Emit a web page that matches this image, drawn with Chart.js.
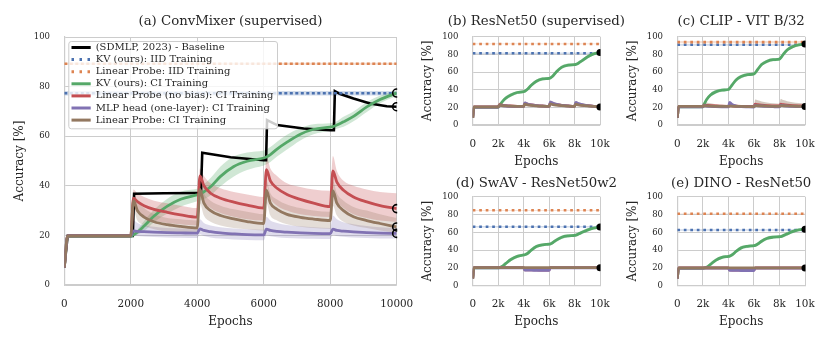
<!DOCTYPE html>
<html><head><meta charset="utf-8">
<script src="https://cdn.jsdelivr.net/npm/chart.js@4.4.1/dist/chart.umd.min.js"></script>
<style>
html,body{margin:0;padding:0;background:#fff;}
#wrap{position:relative;width:831px;height:341px;overflow:hidden;background:#fff;}
canvas{position:absolute;left:0;top:0;width:831px;height:341px;}
</style></head><body>
<div id="wrap">
<canvas id="cA" width="831" height="341"></canvas>
<canvas id="cB" width="831" height="341"></canvas>
<canvas id="cC" width="831" height="341"></canvas>
<canvas id="cD" width="831" height="341"></canvas>
<canvas id="cE" width="831" height="341"></canvas>
</div>
<script>
// ================= DATA =================
const panelTitles = ['(a) ConvMixer (supervised)', '(b) ResNet50 (supervised)', '(c) CLIP - VIT B/32', '(d) SwAV - ResNet50w2', '(e) DINO - ResNet50'];
const yTickLabels = ['0', '20', '40', '60', '80', '100'];
const mainXTickLabels = ['0', '2000', '4000', '6000', '8000', '10000'];
const smallXTickLabels = ['0', '2k', '4k', '6k', '8k', '10k'];
const legendLabels = ['(SDMLP, 2023) - Baseline', 'KV (ours): IID Training', 'Linear Probe: IID Training', 'KV (ours): CI Training', 'Linear Probe (no bias): CI Training', 'MLP head (one-layer): CI Training', 'Linear Probe: CI Training'];

// panel (a) ConvMixer
const mainEpochs = [0, 100, 2000, 2080, 2200, 2400, 2700, 3100, 3500, 4000, 4080, 4200, 4400, 4700, 5100, 5500, 6000, 6080, 6200, 6400, 6700, 7100, 7500, 8000, 8080, 8200, 8400, 8700, 9100, 9500, 10000];
const convKV = [7, 19.6, 19.6, 20.2, 21.3, 23.8, 27.8, 31.8, 34.6, 36.3, 36.6, 37.6, 39.6, 43.8, 47.8, 49.9, 51.2, 51.6, 52.6, 54.8, 57.6, 60.8, 62.8, 63.7, 63.9, 64.5, 65.8, 68.0, 71.8, 74.8, 77.4];
const convKVLo = [6.5, 19.3, 19.3, 19.7, 20.3, 21.8, 25.3, 28.8, 31.6, 33.8, 34.1, 34.6, 36.1, 39.8, 43.8, 46.4, 48.2, 48.6, 49.6, 51.8, 54.6, 58.3, 60.8, 62.2, 62.4, 63.0, 63.8, 66.0, 69.8, 73.3, 76.2];
const convKVHi = [7.5, 19.9, 19.9, 20.7, 22.3, 25.8, 30.3, 34.8, 37.6, 38.8, 39.1, 40.6, 43.1, 47.8, 51.8, 53.4, 54.2, 54.6, 55.6, 57.8, 60.6, 63.3, 64.8, 65.2, 65.4, 66.0, 67.8, 70.0, 73.8, 76.3, 78.6];
const convLPNB = [7, 19.8, 19.8, 35, 33.6, 32, 30.5, 29.3, 28.3, 27.4, 44, 40, 37, 35, 33.4, 32.2, 31, 46.5, 42, 39, 36.5, 34.5, 33, 31.6, 46, 41.5, 38.2, 35.5, 33.5, 32, 30.8];
const convLPNBLo = [6, 19.3, 19.3, 31, 29, 27.5, 26, 25, 24.5, 24, 40, 34, 31, 29, 27.5, 26.5, 26, 40, 35, 32, 30, 28.5, 27.8, 27.4, 39, 34, 31, 28.5, 27, 26, 25.4];
const convLPNBHi = [8, 20.3, 20.3, 38.5, 37, 35.5, 34, 33, 32, 31, 47, 44, 41, 39, 37.5, 36.5, 35.5, 52, 47, 44, 41, 39.5, 38.5, 38, 52, 46, 42, 40, 38.5, 37.5, 37];
const convMLP = [7, 19.8, 19.8, 21.8, 21.6, 21.5, 21.3, 21.1, 21, 20.9, 22.6, 22, 21.5, 21, 20.6, 20.3, 20.2, 22.5, 22, 21.6, 21.3, 21, 20.8, 20.7, 22.5, 22, 21.7, 21.4, 21.1, 20.9, 20.8];
const convMLPLo = [6, 19.3, 19.3, 20, 19.8, 19.6, 19.4, 19.2, 19.1, 19, 20.5, 19.8, 19.2, 18.7, 18.3, 18.1, 18, 20.2, 19.7, 19.3, 19, 18.8, 18.6, 18.5, 20.3, 19.8, 19.5, 19.2, 19, 18.8, 18.7];
const convMLPHi = [8, 20.3, 20.3, 26, 25, 24, 23.5, 23, 22.8, 22.6, 26.5, 25, 24, 23.3, 22.8, 22.5, 22.3, 27.5, 26, 25, 24.2, 23.7, 23.3, 23, 28, 26.5, 25.3, 24.5, 23.8, 23.3, 23];
const convLP = [7, 19.8, 19.8, 34, 30, 27.4, 25.5, 24.3, 23.6, 23, 38.5, 33, 30, 28, 26.7, 25.6, 24.8, 38.2, 33, 30.5, 28.5, 27.3, 26.6, 26, 38, 33, 30, 27.5, 26, 24.8, 23.4];
const convLPLo = [6, 19.3, 19.3, 30, 26, 24, 22.5, 21.5, 21, 20.8, 33, 28, 25.5, 24, 23, 22.5, 22, 33, 28, 26, 24.5, 23.5, 23, 22.7, 32, 28, 25.5, 24, 23, 22, 21];
const convLPHi = [8, 20.3, 20.3, 37, 34, 31, 28.5, 27, 26.5, 26, 42, 37, 34, 32, 30.5, 29.5, 28.5, 42, 37, 34.5, 32.5, 31, 30, 29.5, 42, 37, 34, 31.5, 30, 28.5, 27];
const baselineEpochs = [0, 100, 2060, 2100, 3000, 4000, 4110, 4150, 5000, 6000, 6070, 6100, 6400, 7200, 8000, 8110, 8140, 8300, 8700, 9200, 9700, 10000];
const baselineAcc = [7, 19.8, 19.8, 36.8, 37, 37.1, 37.1, 53.3, 51.5, 50.3, 50.3, 66.5, 64.5, 63.1, 62.4, 62.4, 78.2, 77, 75.2, 73.2, 72.1, 71.9];
const iidEpochs = [0, 10000];
// IID results per panel (a..e)
const iidKV = [77.3, 81.3, 90.8, 66.3, 62.6];
const iidKVSpread = [0.9, 0.8, 1.0, 0.8, 0.8];
const iidLP = [89.2, 91.8, 93.8, 84.7, 80.9];
const iidLPSpread = [0.4, 0.4, 1.2, 0.4, 0.3];

// small panels (b..e)
const smallEpochs = [0, 100, 2000, 2100, 2300, 2600, 3000, 3500, 4000, 4100, 4300, 4600, 5000, 5500, 6000, 6100, 6300, 6600, 7000, 7500, 8000, 8100, 8300, 8600, 9000, 9500, 10000];
const smallKVSpread = [0.5, 0.5, 0.5, 1, 1.5, 2, 2, 1.8, 1.5, 1.5, 1.8, 2, 2, 1.8, 1.5, 1.5, 1.8, 2, 2, 1.8, 1.5, 1.5, 1.8, 2, 2, 1.5, 1.2];

const resnetKV = [8, 20, 20, 22, 26, 30.5, 34, 36.8, 37.8, 38.3, 40.5, 45, 49.5, 52.2, 52.8, 53.2, 55.5, 60.5, 65.5, 67.8, 68.3, 68.6, 70, 73, 77, 80.5, 82];
const resnetLP = [8, 20.5, 20.5, 22.5, 22, 21.6, 21.3, 21.1, 21, 23.5, 22.8, 22.2, 21.7, 21.3, 21.1, 24, 23.2, 22.5, 21.9, 21.4, 21.1, 23.5, 22.8, 22.2, 21.6, 21, 20.5];
const resnetLPNB = [8, 20.5, 20.5, 23, 22.4, 21.9, 21.5, 21.2, 21.1, 24.5, 23.5, 22.7, 22, 21.5, 21.2, 25, 24, 23, 22.2, 21.6, 21.2, 24.5, 23.5, 22.6, 21.9, 21.2, 20.7];
const resnetMLP = [8, 20.3, 20.3, 22.5, 22, 21.5, 21.2, 21, 20.9, 25, 23.8, 22.8, 22, 21.4, 21, 26, 24.6, 23.3, 22.3, 21.6, 21.1, 25.5, 24.2, 23, 22, 21.2, 20.6];
const resnetCILo = [7, 19.8, 19.8, 21, 20.8, 20.6, 20.5, 20.4, 20.3, 21.5, 21.2, 20.9, 20.7, 20.5, 20.4, 22, 21.5, 21, 20.8, 20.6, 20.4, 21.5, 21.2, 20.9, 20.6, 20.3, 20];
const resnetCIHi = [9, 21, 21, 25, 24, 23, 22.4, 22, 21.8, 27, 25.5, 24.3, 23.3, 22.5, 22, 28, 26.5, 25, 23.8, 22.8, 22.2, 27.5, 26, 24.6, 23.4, 22.3, 21.5];

const clipKV = [8, 20.5, 20.5, 23.5, 29, 34, 37.5, 39.5, 40.2, 41.5, 45.5, 51, 54.8, 57, 57.8, 59, 63, 68.5, 72, 74, 74.6, 76, 80, 85, 88.5, 90.8, 91.6];
const clipLP = [8, 21, 21, 21.8, 21.6, 21.4, 21.2, 21, 21, 21.5, 21.3, 21.1, 21, 20.9, 20.8, 22, 21.8, 21.6, 21.4, 21.2, 21.1, 22, 21.8, 21.6, 21.4, 21.2, 21];
const clipLPNB = [8, 21, 21, 22.5, 22.2, 21.9, 21.6, 21.3, 21.2, 22, 21.7, 21.4, 21.2, 21.1, 21, 23.5, 23, 22.5, 22, 21.7, 21.5, 23.5, 23, 22.5, 22, 21.7, 21.5];
const clipMLP = [8, 20.5, 20.5, 22, 21.5, 21, 20.8, 20.6, 20.5, 25.5, 23, 21.5, 20.8, 20.5, 20.3, 22.5, 22, 21.5, 21, 20.7, 20.5, 22.5, 22, 21.5, 21, 20.8, 20.6];
const clipCILo = [7, 20.3, 20.3, 20.5, 20.5, 20.4, 20.3, 20.2, 20.1, 20.3, 20.2, 20.1, 20, 19.9, 19.8, 20.5, 20.4, 20.3, 20.2, 20.1, 20, 20.5, 20.4, 20.3, 20.2, 20.1, 20];
const clipCIHi = [9, 21.5, 21.5, 26.5, 25.5, 24.5, 23.5, 22.8, 22.3, 26, 24.5, 23.2, 22.5, 22.2, 22, 29, 28, 26.7, 25.5, 24.5, 24, 29.5, 28.3, 27, 25.8, 24.8, 24.3];

const swavKV = [8, 20, 20, 20.3, 21.5, 25, 29.5, 33, 34.5, 34.8, 36.2, 40, 44, 46, 46.6, 46.9, 48.5, 51.5, 54.5, 56, 56.5, 56.8, 58, 60, 62.5, 64.8, 66];
const swavLP = [8, 20.3, 20.3, 20.3, 20.3, 20.3, 20.3, 20.3, 20.3, 20.3, 20.3, 20.3, 20.3, 20.3, 20.3, 20.3, 20.3, 20.3, 20.3, 20.3, 20.3, 20.3, 20.3, 20.3, 20.3, 20.3, 20.3];
const swavLPNB = [8, 20.3, 20.3, 20.3, 20.3, 20.3, 20.3, 20.3, 20.3, 17.9, 17.8, 17.7, 17.7, 17.6, 17.6, 20.3, 20.3, 20.3, 20.3, 20.3, 20.3, 20.3, 20.3, 20.3, 20.3, 20.3, 20.3];
const swavMLP = [8, 20.1, 20.1, 20.1, 20.1, 20.1, 20.1, 20.1, 20.1, 17.5, 17.4, 17.4, 17.3, 17.3, 17.3, 20.1, 20.1, 20.1, 20.1, 20.1, 20.1, 20.1, 20.1, 20.1, 20.1, 20.1, 20.1];

const dinoKV = [8, 19.5, 19.5, 19.8, 20.8, 24, 28.5, 31.8, 33, 33.3, 34.8, 38.5, 42.5, 44.3, 45, 45.3, 46.8, 50, 53, 54.5, 55, 55.2, 56.3, 58.2, 60.7, 62.6, 63.4];
const dinoLP = [8, 20, 20, 20, 20, 20, 20, 20, 20, 20, 20, 20, 20, 20, 20, 20, 20, 20, 20, 20, 20, 20, 20, 20, 20, 20, 20];
const dinoLPNB = [8, 20, 20, 20, 20, 20, 20, 20, 20, 17.7, 17.6, 17.5, 17.5, 17.4, 17.4, 20, 20, 20, 20, 20, 20, 20, 20, 20, 20, 20, 20];
const dinoMLP = [8, 19.8, 19.8, 19.8, 19.8, 19.8, 19.8, 19.8, 19.8, 17.3, 17.2, 17.2, 17.1, 17.1, 17.1, 19.8, 19.8, 19.8, 19.8, 19.8, 19.8, 19.8, 19.8, 19.8, 19.8, 19.8, 19.8];

// ================= STYLE / LAYOUT =================
const FONT = '"DejaVu Serif", serif';
const TXT = '#262626';
const GRID = '#cccccc';
const COL = {black: '#000000', blue: '#4C72B0', orange: '#DD8452', green: '#55A868', red: '#C44E52', purple: '#8172B3', brown: '#937860'};
const legendColors = [COL.black, COL.blue, COL.orange, COL.green, COL.red, COL.purple, COL.brown];
const legendDotted = [false, true, true, false, false, false, false];
const W = 831, H = 341, YW = 60, XH = 56;
const GEOM = [
  {id: 'cA', l: 64.3, r: 396.7, t: 37, b: 285, ty: 21.5},
  {id: 'cB', l: 472.7, r: 600, t: 36.7, b: 125, ty: 21.3},
  {id: 'cC', l: 677.3, r: 805, t: 36.7, b: 125, ty: 21.3},
  {id: 'cD', l: 472.7, r: 600, t: 196.7, b: 285.7, ty: 183.3},
  {id: 'cE', l: 677.3, r: 805, t: 196.7, b: 285.7, ty: 183.3}
];
const TITLE_SIZE = 13.3, LABEL_SIZE = 12, XTICK_SIZE = 10.4, YTICK_SIZE = 8.5, LEGEND_SIZE = 10;

function rgba(hex, a) { const n = parseInt(hex.slice(1), 16); return `rgba(${n >> 16},${(n >> 8) & 255},${n & 255},${a})`; }
const pts = (xs, ys) => xs.map((x, i) => ({x, y: ys[i]}));
const LINE_CLIP = {left: 0, right: 0, top: 2, bottom: 2};

function lineDS(label, xs, ys, color, width, z, extra) {
  return Object.assign({label, data: pts(xs, ys), borderColor: color, backgroundColor: color, borderWidth: width,
    pointRadius: 0, pointHoverRadius: 0, fill: false, cubicInterpolationMode: 'monotone', order: 1000 - z, clip: LINE_CLIP, borderCapStyle: 'butt'}, extra || {});
}
function bandDS(xs, lo, hi, color, alpha, z) {
  return [
    {label: '_hi', data: pts(xs, hi), borderWidth: 0, borderColor: 'rgba(0,0,0,0)', pointRadius: 0, fill: '+1', backgroundColor: rgba(color, alpha), cubicInterpolationMode: 'monotone', order: 1000 - z, clip: LINE_CLIP},
    {label: '_lo', data: pts(xs, lo), borderWidth: 0, borderColor: 'rgba(0,0,0,0)', pointRadius: 0, fill: false, backgroundColor: 'rgba(0,0,0,0)', cubicInterpolationMode: 'monotone', order: 1000 - z, clip: LINE_CLIP}
  ];
}
function iidDatasets(k, dash, width) {
  const kvVals = iidEpochs.map(() => iidKV[k]);
  const lpVals = iidEpochs.map(() => iidLP[k]);
  return [
    ...bandDS(iidEpochs, kvVals.map(v => v - iidKVSpread[k]), kvVals.map(v => v + iidKVSpread[k]), COL.blue, 0.25, 1),
    ...bandDS(iidEpochs, lpVals.map(v => v - iidLPSpread[k]), lpVals.map(v => v + iidLPSpread[k]), COL.orange, 0.25, 2),
    lineDS('KV IID', iidEpochs, kvVals, COL.blue, width, 11, {borderDash: dash, cubicInterpolationMode: 'default'}),
    lineDS('LP IID', iidEpochs, lpVals, COL.orange, width, 12, {borderDash: dash, cubicInterpolationMode: 'default'})
  ];
}
function markerDS(points, radius, filled, z) {
  return {label: '_end', data: points, showLine: false, pointRadius: radius, pointHoverRadius: radius, pointStyle: 'circle',
    pointBorderColor: '#000', pointBackgroundColor: filled ? '#000' : 'rgba(0,0,0,0)', pointBorderWidth: filled ? 0 : 1.6,
    order: 1000 - z, clip: {left: 0, right: 0.5, top: 10, bottom: 10}};
}
const last = a => a[a.length - 1];

const boxLegend = {
  id: 'boxLegend',
  afterDatasetsDraw(chart) {
    const ca = chart.chartArea, ctx = chart.ctx;
    ctx.save();
    const bx = ca.left + 4, by = ca.top + 4, bw = 208.7, bh = 87.3;
    ctx.beginPath();
    ctx.roundRect(bx + 0.5, by + 0.5, bw, bh, 2.5);
    ctx.fillStyle = 'rgba(255,255,255,0.8)';
    ctx.fill();
    ctx.lineWidth = 1;
    ctx.strokeStyle = GRID;
    ctx.stroke();
    ctx.font = `${LEGEND_SIZE}px ${FONT}`;
    ctx.textBaseline = 'middle';
    ctx.textAlign = 'left';
    legendLabels.forEach((lab, i) => {
      const yy = ca.top + 10.5 + i * 12.1;
      ctx.beginPath();
      ctx.lineWidth = 3;
      ctx.lineCap = 'butt';
      ctx.strokeStyle = legendColors[i];
      ctx.setLineDash(legendDotted[i] ? [2.5, 5.5] : []);
      ctx.moveTo(ca.left + 7.2, yy);
      ctx.lineTo(ca.left + 26.4, yy);
      ctx.stroke();
      ctx.setLineDash([]);
      ctx.fillStyle = TXT;
      ctx.fillText(lab, ca.left + 31.4, yy);
    });
    ctx.restore();
  }
};

// panel title drawn centred over the plot area (not squeezed to its width)
const panelTitle = {
  id: 'panelTitle',
  afterDraw(chart, args, opts) {
    const ca = chart.chartArea, ctx = chart.ctx;
    ctx.save();
    ctx.font = `${TITLE_SIZE}px ${FONT}`;
    ctx.fillStyle = TXT;
    ctx.textAlign = 'center';
    ctx.textBaseline = 'middle';
    ctx.fillText(opts.text, (ca.left + ca.right) / 2, opts.y);
    ctx.restore();
  }
};

function makePanel(idx, datasets, xTickLabels, plugins) {
  const G = GEOM[idx];
  const lhL = LABEL_SIZE * 1.2;
  const lhX = XTICK_SIZE * 1.2;
  const axisCommon = {
    grid: {color: GRID, lineWidth: 1, drawTicks: false},
    border: {color: GRID, width: 1.2}
  };
  return new Chart(document.getElementById(G.id), {
    type: 'line',
    data: {datasets},
    options: {
      responsive: false, animation: false, devicePixelRatio: 1, events: [],
      layout: {padding: {left: G.l - YW, right: W - G.r, top: G.t, bottom: H - G.b - XH}},
      plugins: {
        legend: {display: false}, tooltip: {enabled: false}, title: {display: false},
        panelTitle: {text: panelTitles[idx], y: G.ty}
      },
      scales: {
        x: Object.assign({type: 'linear', min: 0, max: 10000,
          afterFit: s => { s.height = XH; },
          ticks: {stepSize: 2000, autoSkip: false, maxRotation: 0, minRotation: 0, padding: 18.8 - lhX / 2, color: TXT,
            font: {family: FONT, size: XTICK_SIZE, lineHeight: 1.2}, callback: (v, i) => xTickLabels[i]},
          title: {display: true, text: 'Epochs', color: TXT, font: {family: FONT, size: LABEL_SIZE, lineHeight: 1.2},
            padding: {top: 0, bottom: XH - 36.5 - lhL / 2}}}, axisCommon),
        y: Object.assign({type: 'linear', min: 0, max: 100,
          afterFit: s => { s.width = YW; },
          ticks: {stepSize: 20, padding: 14.3, color: TXT, font: {family: FONT, size: YTICK_SIZE, lineHeight: 1.2},
            callback: (v, i) => yTickLabels[i]},
          title: {display: true, text: 'Accuracy [%]', color: TXT, font: {family: FONT, size: LABEL_SIZE, lineHeight: 1.2},
            padding: {top: YW - 44.6 - lhL / 2, bottom: 0}}}, axisCommon)
      }
    },
    plugins: [panelTitle].concat(plugins || [])
  });
}

// ---- panel (a)
const LW = 2.8;
const mainDS = [
  ...iidDatasets(0, [3, 2.5], 2.6),
  ...bandDS(mainEpochs, convKVLo, convKVHi, COL.green, 0.28, 3),
  ...bandDS(mainEpochs, convLPNBLo, convLPNBHi, COL.red, 0.28, 4),
  ...bandDS(mainEpochs, convMLPLo, convMLPHi, COL.purple, 0.25, 5),
  ...bandDS(mainEpochs, convLPLo, convLPHi, COL.brown, 0.25, 6),
  lineDS(legendLabels[0], baselineEpochs, baselineAcc, COL.black, 2.6, 10, {cubicInterpolationMode: 'default', tension: 0}),
  lineDS(legendLabels[3], mainEpochs, convKV, COL.green, LW, 13),
  lineDS(legendLabels[4], mainEpochs, convLPNB, COL.red, LW, 14),
  lineDS(legendLabels[5], mainEpochs, convMLP, COL.purple, LW, 15),
  lineDS(legendLabels[6], mainEpochs, convLP, COL.brown, LW, 16),
  markerDS([
    {x: last(mainEpochs), y: last(convKV)}, {x: last(baselineEpochs), y: last(baselineAcc)},
    {x: last(mainEpochs), y: last(convLPNB)}, {x: last(mainEpochs), y: last(convLP)}, {x: last(mainEpochs), y: last(convMLP)}
  ], 4, false, 20)
];
makePanel(0, mainDS, mainXTickLabels, [boxLegend]);

// ---- small panels
function smallPanel(idx, kv, lpnb, mlp, lp, ciLo, ciHi) {
  const ds = [
    ...iidDatasets(idx, [2.7, 3.8], 2.6),
    ...bandDS(smallEpochs, kv.map((v, i) => v - smallKVSpread[i]), kv.map((v, i) => v + smallKVSpread[i]), COL.green, 0.3, 3)
  ];
  if (ciLo) ds.push(...bandDS(smallEpochs, ciLo, ciHi, COL.brown, 0.4, 4));
  ds.push(
    lineDS(legendLabels[3], smallEpochs, kv, COL.green, LW, 13),
    lineDS(legendLabels[4], smallEpochs, lpnb, COL.red, LW, 14),
    lineDS(legendLabels[5], smallEpochs, mlp, COL.purple, LW, 15),
    lineDS(legendLabels[6], smallEpochs, lp, COL.brown, LW, 16),
    markerDS([{x: last(smallEpochs), y: last(kv)}, {x: last(smallEpochs), y: last(lp)}], 3.5, true, 20)
  );
  makePanel(idx, ds, smallXTickLabels);
}
smallPanel(1, resnetKV, resnetLPNB, resnetMLP, resnetLP, resnetCILo, resnetCIHi);
smallPanel(2, clipKV, clipLPNB, clipMLP, clipLP, clipCILo, clipCIHi);
smallPanel(3, swavKV, swavLPNB, swavMLP, swavLP, null, null);
smallPanel(4, dinoKV, dinoLPNB, dinoMLP, dinoLP, null, null);
</script>
</body></html>
